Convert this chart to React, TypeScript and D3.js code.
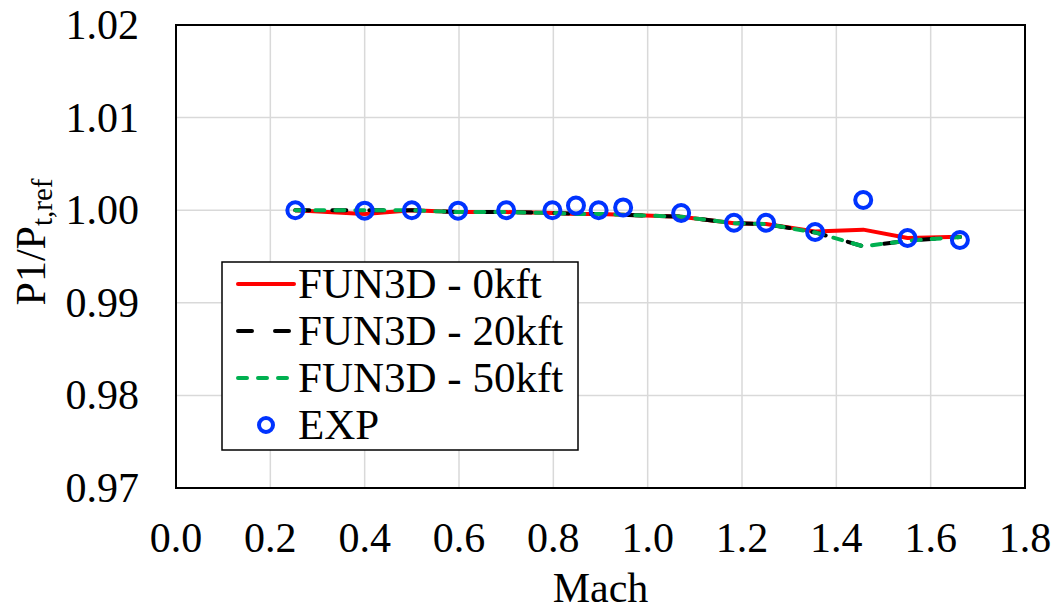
import React from "react";
import * as d3 from "d3";

const mach = [0.253, 0.4, 0.5, 0.598, 0.7, 0.798, 0.848, 0.896, 0.948, 1.071, 1.183, 1.251, 1.355, 1.457, 1.551, 1.662];
const expVals = [1.0, 0.99995, 1.0, 0.99995, 1.0, 1.0, 1.0005, 1.0, 1.0003, 0.9997, 0.99865, 0.99865, 0.99765, 1.0011, 0.997, 0.99678];
const fun3d0 = [1.0, 0.9996, 1.0, 0.9998, 0.9998, 0.9997, 0.9996, 0.9996, 0.9995, 0.9993, 0.9986, 0.9985, 0.9977, 0.9979, 0.997, 0.99714];
const fun3d20 = [1.0, 1.0, 1.0, 0.9998, 0.9998, 0.9997, 0.9996, 0.9996, 0.9995, 0.9993, 0.9986, 0.9985, 0.9976, 0.9961, 0.9967, 0.9971];
const fun3d50 = [1.0, 1.0, 1.0, 0.9998, 0.9998, 0.9997, 0.9996, 0.9996, 0.9995, 0.9993, 0.9986, 0.9985, 0.9976, 0.9961, 0.9967, 0.9971];
const xTicks = [0, 0.2, 0.4, 0.6, 0.8, 1.0, 1.2, 1.4, 1.6, 1.8];
const yTicks = [0.97, 0.98, 0.99, 1.0, 1.01, 1.02];
const legendLabels = ["FUN3D - 0kft", "FUN3D - 20kft", "FUN3D - 50kft", "EXP"];

const FONT = "Liberation Serif";
const FS = 42;

export default function App() {
  const left = 176, right = 1025, top = 25, bottom = 488;
  const x = d3.scaleLinear().domain([0, 1.8]).range([left, right]);
  const y = d3.scaleLinear().domain([0.97, 1.02]).range([bottom, top]);
  const line = d3.line<number>().x((_, i) => x(mach[i])).y((d) => y(d));

  const series = [
    { vals: fun3d0, color: "#FF0000", dash: undefined as string | undefined },
    { vals: fun3d20, color: "#000000", dash: "14 23" },
    { vals: fun3d50, color: "#00B050", dash: "9 11" },
  ];

  const lg = { x: 222, y: 262, w: 356, h: 188 };
  const rowY = [284, 331, 378, 425];
  const ts = { fontFamily: FONT, fontSize: FS };

  return (
    <svg width={1056} height={610} style={{ position: "absolute", left: 0, top: 0, background: "#fff" }}>
      <rect x={0} y={0} width={1056} height={610} fill="#fff" />
      {xTicks.map((t) => (
        <line key={"gx" + t} x1={x(t)} x2={x(t)} y1={top} y2={bottom} stroke="#d9d9d9" strokeWidth={1.5} />
      ))}
      {yTicks.map((t) => (
        <line key={"gy" + t} x1={left} x2={right} y1={y(t)} y2={y(t)} stroke="#d9d9d9" strokeWidth={1.5} />
      ))}
      <rect x={left} y={top} width={right - left} height={bottom - top} fill="none" stroke="#000" strokeWidth={2} />
      {series.map((s, i) => (
        <path key={"s" + i} d={line(s.vals) || ""} fill="none" stroke={s.color} strokeWidth={4}
          strokeDasharray={s.dash} strokeLinecap="round" strokeLinejoin="round" />
      ))}
      {expVals.map((v, i) => (
        <circle key={"e" + i} cx={x(mach[i])} cy={y(v)} r={8} fill="none" stroke="#0033FF" strokeWidth={4} />
      ))}
      {xTicks.map((t) => (
        <text key={"tx" + t} x={x(t)} y={552} textAnchor="middle" style={ts} fill="#000">
          {t.toFixed(1)}
        </text>
      ))}
      {yTicks.map((t) => (
        <text key={"ty" + t} x={139} y={y(t) + 14} textAnchor="end" style={ts} fill="#000">
          {t.toFixed(2)}
        </text>
      ))}
      <text x={(left + right) / 2} y={602} textAnchor="middle" style={ts} fill="#000">Mach</text>
      <text transform="translate(45,242) rotate(-90)" textAnchor="middle" style={ts} fill="#000">
        P1/P<tspan style={{ fontSize: 29 }} dy={7}>t,ref</tspan>
      </text>
      <rect x={lg.x} y={lg.y} width={lg.w} height={lg.h} fill="#fff" stroke="#000" strokeWidth={1.5} />
      {series.map((s, i) => (
        <line key={"ll" + i} x1={238} x2={294} y1={rowY[i]} y2={rowY[i]} stroke={s.color} strokeWidth={4}
          strokeDasharray={s.dash} strokeLinecap="round" />
      ))}
      <circle cx={266} cy={rowY[3]} r={7} fill="none" stroke="#0033FF" strokeWidth={4} />
      {legendLabels.map((l, i) => (
        <text key={"lt" + i} x={298} y={rowY[i] + 14} style={{ fontFamily: FONT, fontSize: 43 }} fill="#000">{l}</text>
      ))}
    </svg>
  );
}
